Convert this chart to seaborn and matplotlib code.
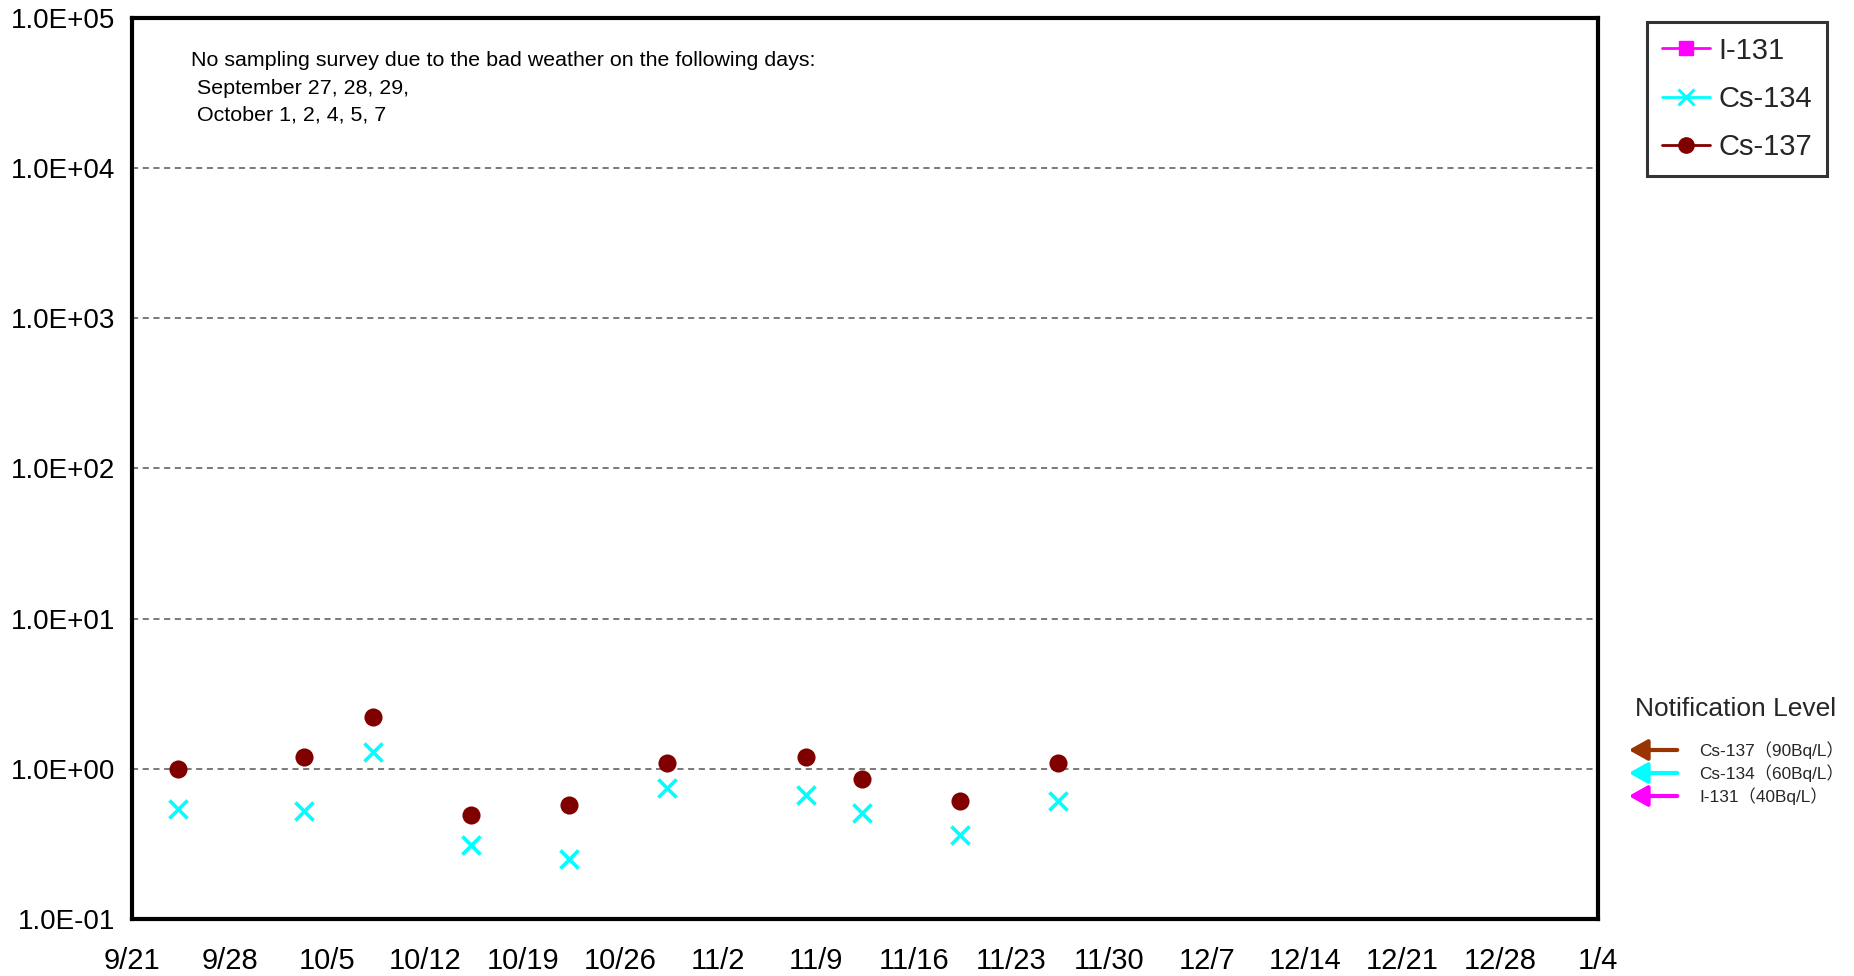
import matplotlib
matplotlib.use("Agg")
import matplotlib.pyplot as plt
from matplotlib.lines import Line2D
import seaborn as sns
import pandas as pd

sns.set_theme(style="white")
plt.rcParams['font.family'] = ['Liberation Sans', 'Noto Sans CJK JP', 'DejaVu Sans']

# ---- data ----
sample_dates = ["2011-09-24 07:00", "2011-10-03 07:00", "2011-10-08 07:00", "2011-10-15 07:00",
                "2011-10-22 07:00", "2011-10-29 07:00", "2011-11-08 07:00", "2011-11-12 07:00",
                "2011-11-19 07:00", "2011-11-26 07:00"]
cs137 = [1.0, 1.2, 2.2, 0.49, 0.57, 1.1, 1.2, 0.85, 0.61, 1.1]
cs134 = [0.54, 0.52, 1.3, 0.31, 0.25, 0.75, 0.67, 0.51, 0.36, 0.61]
series_names = ["I-131", "Cs-134", "Cs-137"]
x_tick_dates = pd.date_range("2011-09-21", "2012-01-04", freq="7D")
x_tick_labels = ["9/21", "9/28", "10/5", "10/12", "10/19", "10/26", "11/2", "11/9",
                 "11/16", "11/23", "11/30", "12/7", "12/14", "12/21", "12/28", "1/4"]
y_ticks = [1e-1, 1e0, 1e1, 1e2, 1e3, 1e4, 1e5]
y_tick_labels = ["1.0E-01", "1.0E+00", "1.0E+01", "1.0E+02", "1.0E+03", "1.0E+04", "1.0E+05"]
note_lines = ["No sampling survey due to the bad weather on the following days:",
              " September 27, 28, 29,",
              " October 1, 2, 4, 5, 7"]
level_labels = ["Cs-137（90Bq/L）", "Cs-134（60Bq/L）", "I-131（40Bq/L）"]
level_colors = ["#993300", "#00FFFF", "#FF00FF"]

df = pd.DataFrame({"date": pd.to_datetime(sample_dates), "Cs-137": cs137, "Cs-134": cs134})

W, H = 1854, 976
fig = plt.figure(figsize=(W / 100, H / 100), dpi=100)
ax = fig.add_axes([132 / W, 1 - 919 / H, (1598 - 132) / W, (919 - 18) / H])

sns.scatterplot(data=df, x="date", y="Cs-134", ax=ax, marker="x", color="#00FFFF",
                s=170, linewidth=2.6, zorder=3)
sns.scatterplot(data=df, x="date", y="Cs-137", ax=ax, marker="o", color="#800000",
                s=170, edgecolor="#800000", linewidth=0, zorder=4)

ax.set_yscale("log")
ax.set_ylim(1e-1, 1e5)
ax.set_xlim(x_tick_dates[0], x_tick_dates[-1])
ax.set_xticks(x_tick_dates)
ax.set_xticklabels(x_tick_labels)
ax.set_yticks(y_ticks)
ax.set_yticklabels(y_tick_labels)
ax.yaxis.set_minor_locator(matplotlib.ticker.NullLocator())
ax.set_xlabel("")
ax.set_ylabel("")
ax.tick_params(axis="both", direction="in", length=7, width=1, color="black",
               labelcolor="black")
ax.tick_params(axis="x", pad=20, labelsize=21)
ax.tick_params(axis="y", pad=12, labelsize=20)

for yv in y_ticks[1:-1]:
    ax.axhline(yv, color="#555555", linestyle=(0, (4, 3)), linewidth=1.1, zorder=1)

for sp in ax.spines.values():
    sp.set_color("black")
    sp.set_linewidth(3)

# annotation note
for i, line in enumerate(note_lines):
    fig.text(191 / W, 1 - (61 + 27 * i) / H, line,
             fontsize=15.4, va="center", ha="left", color="black")

# legend
handles = [
    Line2D([], [], color="#FF00FF", marker="s", markersize=10, linewidth=2),
    Line2D([], [], color="#00FFFF", marker="x", markersize=12, markeredgewidth=2.2, linewidth=2),
    Line2D([], [], color="#800000", marker="o", markersize=11, linewidth=2),
]
leg = fig.legend(handles, series_names, loc="upper left",
                 bbox_to_anchor=(1647 / W, 1 - 22 / H), bbox_transform=fig.transFigure,
                 fontsize=21, frameon=True, fancybox=False, borderaxespad=0,
                 handlelength=1.65, handletextpad=0.3, labelspacing=0.7, borderpad=0.5)
leg.get_frame().set_edgecolor("black")
leg.get_frame().set_linewidth(2.2)
leg.get_frame().set_facecolor("white")

# notification level
fig.text(1736 / W, 1 - 709 / H, "Notification Level", fontsize=19, ha="center", va="center")
for i, (lab, col) in enumerate(zip(level_labels, level_colors)):
    y = 1 - (750 + 23 * i) / H
    fig.add_artist(matplotlib.patches.FancyArrowPatch(
        (1680 / W, y), (1626 / W, y), transform=fig.transFigure,
        arrowstyle="-|>,head_length=0.8,head_width=0.45", mutation_scale=14,
        color=col, linewidth=3))
    fig.text(1699 / W, y, lab, fontsize=12.4, ha="left", va="center")

fig.savefig("out.png", dpi=100)
